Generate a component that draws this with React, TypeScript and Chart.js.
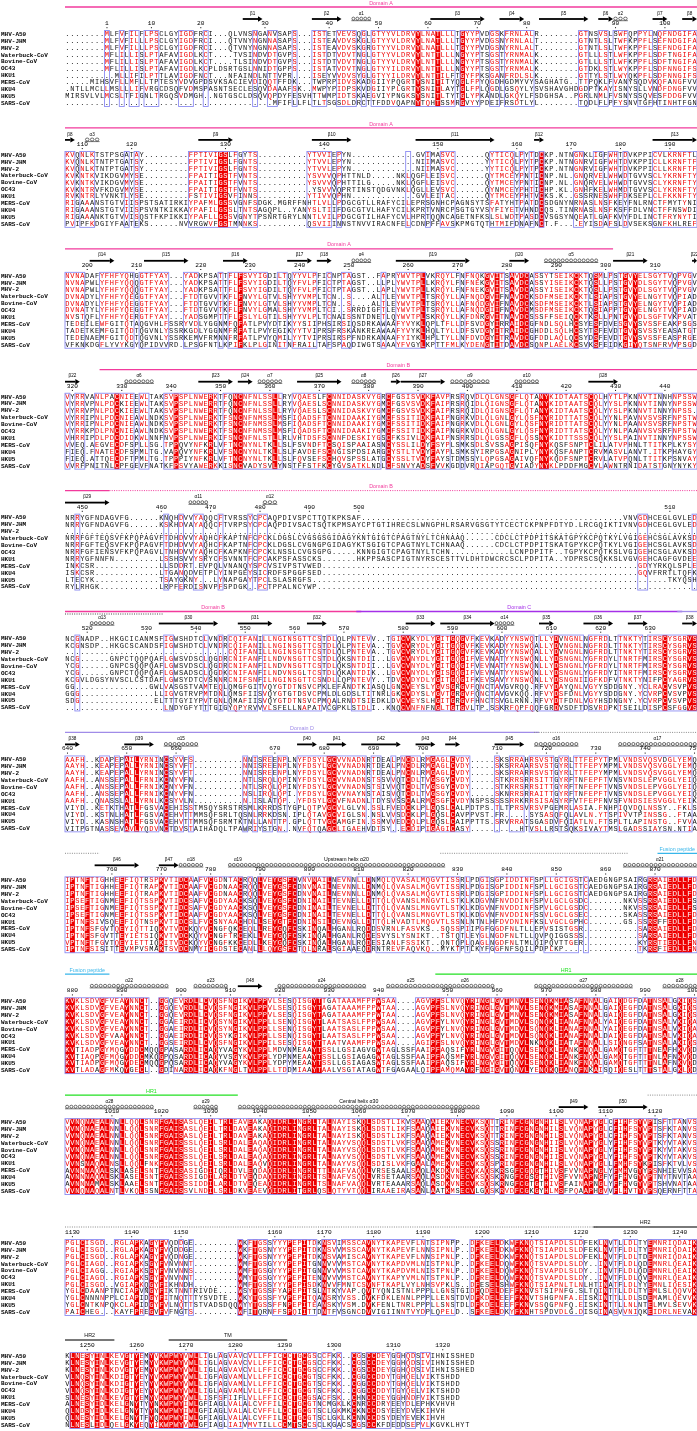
import React, { useEffect, useRef } from "react";
import { Chart, registerables } from "chart.js";

Chart.register(...registerables);

const g = (n: number) => ".".repeat(n);

// ---------------- DATA ----------------
const names = ["MHV-A59", "MHV-JHM", "MHV-2", "Waterbuck-CoV", "Bovine-CoV", "OC43", "HKU1", "MERS-CoV", "HKU4", "HKU5", "SARS-CoV"];

// first MHV-A59 residue number of every block (numbering row)
const blockStartResidue = [1, 107, 196, 319, 447, 516, 640, 751, 879, 1001, 1129, 1246];

const seqBlock1 = [
  g(8) + "MLFVFILFLPSCLGYIGDFRCI...QLVNSNGANVSAPS...ISTETVEVSQGLGTYYVLDRVYLNATLLLTGYYPVDGSKFRNLALR" + g(8) + "GTNSVSLSWFQPPYLNQFNDGIFA",
  g(8) + "MLFVFILLLPSCLGYIGDFRCI...QTVNYNGNNASAPS...ISTEAVDVSKGLGTYYVLDRVYLNATLLLTGYYPVDGSNYRNLALT" + g(8) + "GTNTLSLTWFKPPFLSEFNDGIFA",
  g(8) + "MLFVFILLLPSCLGYIGDFRCI...QTVNYNGNNASAPS...ISTEAVDVSKGRGTYYVLDRVYLNATLLLTGYYPVDGSNYRNLALT" + g(8) + "GTNTLSLTWFKPPFLSEFNDGIFA",
  g(8) + "MFLILLISLPTAFAVIGDLKCT....TVSINDVDTGVPS...ISTDTVDVTNGLGTYYVLDRVYLNTTLLLNGYYPTSGSTYRNMALK" + g(8) + "GTLLLSTLWFKPPFLSDFTNGIFA",
  g(8) + "MFLILLISLPTAFAVIGDLKCT....TLSINDVDTGVPS...ISTDTVDVTNGLGTYYVLDRVYLNTTLLLNGYYPTSGSTYRNMALK" + g(8) + "GTLLLSTLWFKPPFLSDFTNGIFA",
  g(8) + "MFLILLISLPTAFAVIGDLKCPLDSRTGSLNNIDTGPPS...ISTATVDVTNGLGTYYILDRVYLNTTLLLNGYYPTSGSTYRNMALK" + g(8) + "GTDKLSTLWYKPPFLSDFNNGIFS",
  g(10) + "MLLIFILPTTLAVIGDFNCT...NFAINDLNTTVPR....ISEYVVDVSYGLGTYYILDRVYLNTTILFTGYFPKSGANFRDLSLK" + g(8) + "GTTYLSTLWYQKPFLSDFNNGIFS",
  g(5) + "MIHSVFLLMFLLTPTESYVDVGPDSVKSACIEVDIQQTFFDK...TWPRPIDVSKADGIIYPQGRTYSNITITYQGLFPYQGDHGDMYVYSAGHATG..TTPQKLFVANYSQDVKQFANGFVV",
  ".NTLLMCLLMSLLLIFVRGCDSQFVDMSPASNTSECLESQVDAAAFSK..MWPYPIDPSKVDGIIYPLGRTYSNITLAYTGLFPLQGDLGSQYLYSVSHAVGHDGDPTKAYISNYSLLVNDFDNGFVV",
  "MIRSVLVLMCSLTFIGNLTRGQSVDMGH..NGTGSCLDSQVQPDYFESVHTTWMPIDTSKAEGVIYPNGKSYSNITLTYTGLYPKANDLGKQYLFSDGHSA..PGRLNMLFVSNYSSQVESFDDGFVV",
  g(42) + "MFIFLLFLTLTSGSDLDRCTTFDDVQAPNYTQHTSSMRGVYYPDEIFRSDTLYL" + g(8) + "TQDLFLPFYSNVTGFHTINHTFGN",
];

const seqBlock2 = [
  "KVQNLKTSTPSGATAY" + g(9) + "FPTIVIGSLFGYTS" + g(10) + "YTVVIEPYN" + g(13) + "GVIMASVC" + g(6) + "QYTICQLPYTDCKP.NTNGNKLIGFWHTDVKPPICVLKRNFTL",
  "KVQNLKTNTPTGATSY" + g(9) + "FPTIVIGSLFGNTS" + g(10) + "YTVVLEPYN" + g(13) + "NIIMASVC" + g(6) + "YYTICQLPYTPCKP.NTNGNRVIGFWHTDVKPPICLLKRNFTF",
  "KVQNLKTNTPTGATSY" + g(9) + "FPTIVIGSLFGNTS" + g(10) + "YTVVLEPYN" + g(13) + "NIIMASVC" + g(6) + "YYTICQLPYTPCKP.NTNGNRVIGFWHTDVKPPICLLKRNFTF",
  "KVKNTKVIKDGVMYSE" + g(9) + "FPAITIGSTFVNTS" + g(10) + "YSVVVQPHTTNLD" + g(5) + "NKLQGFLEISVC" + g(6) + "QYTMCEYPNTICNP.NL.GNQRVELWHWDTGVVSCLYKRNFTY",
  "KVKNTKVIKDGVMYSE" + g(9) + "FPAITIGSTFVNTS" + g(10) + "YSVVVQPHTTILG" + g(5) + "NKLQGFLEISVC" + g(6) + "QYTMCEYPNTICNP.NL.GNQRVELWHWDTGVVSCLYKRNFTY",
  "KVKNTRVFKDGVMYSE" + g(9) + "FPAITIGSTFVNTS" + g(11) + "YSVVVQPRTINSTQDGVNKLQGLLEVSVC" + g(6) + "QYNMCEYPHTICHP.KL.GNHFKELWHMDTGVVSCLYKRNFTY",
  "RVKNTRLYVNKTLYSE" + g(9) + "FSTIVIGSVFINNS" + g(10) + "YTIVVQPHN" + g(13) + "GVLEITAC" + g(6) + "QYTMCEYPHTVCKS.K..GSSRNESWHFDKSEPLCLFKKNFTY",
  "RIGAAANSTGTVIISPSTSATIRKIYPAFMLGSSVGNFSDGK.MGRFFNHTLVLLPDGCGTLLRAFYCILEPRSGNHCPAGNSYTSFATYHTPATDCSDGNYNRNASLNSFKEYFNLRNCTFMYTYNI",
  "RIGAAANSTGTVIISPSVNTKIKKAYPAFILGSSLTNTSAGQPL..YANYSLTIIFDGCGTVLHAFYCILKPRTVNRCPSGTGYVSYFIYETVHNDCQS.TINRNASLNSFKSFFDLVNCTFFNSWDI",
  "RIGAAANKTGTVVISQSTFKPIKKIYPAFLLGSSVGNYTPSNRTGRYLNNTLVILPDGCGTILHAFYCVLHPRTQQNCAGETNFKSLSLWDTPASDCVSGSYNQEATLGAFKVYFDLINCTFRYNYTI",
  "PVIPFKDGIYFAATEKS" + g(6) + "NVVRGWVFGSTMNNKS" + g(10) + "QSVIIINNSTNVVIRACNFELCDNPFFAVSKPMGTQTHTMIFDNAFNCT.F....EYISDAFSLDVSEKSGNFKHLREF",
];

const seqBlock3 = [
  "NVNADAFYFHFYQHGGTFYAY...YADKPSATTFLFSVYIGDILTQYYVLPFICNPTAGST..FAPRYWVTPLVKRQYLFNFNQKGVITSAVDCASSYTSEIKCKTQSMLPSTGVYELSGYTVQPVGV",
  "NVNAPWLYFHFYQQQGTFYAY...YADKPSATTFLFSVYIGDILTQYFVLPFICTPTAGST..LLPLYWVTPLLKRQYLFNFNEKGVITSAVDCASSYISEIKCKTQSLLPSTGVYDLSGYTVQPVGV",
  "NVNAPWLYFHFYQQQGTFYAY...YADKPSATTFLFSVYIGDILTQYFVLPFICTPTAGST..LAPLYWVTPLLKRQYLFNFNEKGVITSAVDCASSYISEIKCKTQSLLPSTGVYDLSGYTVQPVGV",
  "DVNADYLYFHFYQEGGTFYAY...FTDTGVVTKFLFNVYLGTVLSHYYVMPLTCN..S....ALTLEYWVTPLTSRQYLLAFNQDGVIFNAVDCKSDFMSEIKCKTLSIAPSTGVYELNGYTVQPIAD",
  "DVNADYLYFHFYQEGGTFYAY...FTDTGVVTKFLFNVYLGTVLSHYYVMPLTCN..S....ALTLEYWVTPLTSRQYLLAFNQDGVIFNAVDCKSDFMSEIKCKTLSIAPSTGVYELNGYTVQPIAD",
  "DVNATYLYFHFYQEGGTFYAY...FTDTGVVTKFLFNVYLGMALSHYYVMPLTCI..SRRDIGFTLEYWVTPLTSRQYLLAFNQDGIIFNAVDCMSDFMSEIKCKTQSIAPPTGVYELNGYTVQPIAD",
  "NVSTQFLYFHFYQERGTFYAY...YADSGMPTTFLFSLYLGTILSHYYVLPLTCNAISSNTDNETLQYWVTPLSKRQYLLKFDNRGVITNAVDCSSSFFSEIQCKTKSLLPNTGVYDLSGFTVKPVAT",
  "TEDEILEWFGITQTAQGVHLFSSRYVDLYGGNMFQFATLPVYDTIKYYSIIPHSIRSIQSDRKAWAAFYVYKLQPLTFLLDFSVDGYIRRAIDCGFNDLSQLHCSYESFDVESGVYSVSSFEAKPSGS",
  "TADETKEMFGITQDTQGVNLYSSRKGDLYGGNMFRFATLPVYEGIKYYTVIPRSFRSKANKREAWAAFYVYKLHQLTYLLDFSVDGYITRAIDCGHDDLSQLHCSYTSFEVDTGVYSVSSYEASATGT",
  "TEDENAEMFGITQDTQGVNLYSSRKEMVFRMNNFRFATLPVYQMILYYTVIPRSIRSPFNDRKANAAFYIYKLHPLTYLLNFDVDGYITRAVDCGFDDLAQLQCSYDSFEVDTGVYSVSSFEASPRGE",
  "VFKNKDGFLYVYKGYQPIDVVRD.LPSGFNTLKPIFKLPLGINITNFRAILTAFSPAQDIWGTSAAAYFVGYLKPTTFMLKYDENGTITDAVDCSQNPLAELKCSVKSFEIDKGIYQTSNFRVVPSGD",
];

const seqBlock4 = [
  "VYRRVANLPACNIEEWLTAKSVPSPLNWERKTFQNCNFNLSSLLRYVQAESLFCNNIDASKVYGRCFGSISVDKFAVPRSRQVDLQLGNSGFLQTANYKIDTAATSCQLHYTLPKNNVTINNHNPSSW",
  "VYRRVPNLPDCKIEEWLTAKSVPSPLNWERRTFQNCNFNLSSLLRYVQAESLSCNNIDASKVYGMCFGSVSVDKFAIPRSRQIDLQIGNSGFLQTANYKIDTAATSCQLYYSLPKNNVTINNYNPSSW",
  "VYRRVPNLPDCKIEEWLTAKSVPSPLNWERRTFQNCNFNLSSLLRYVQAESLSCNNIDASKVYGMCFGSVSVDKFAIPRSRQIDLQIGNSGFLQTANYKIDTAATSCQLYYSLPKNNVTINNYNPSS.",
  "VYRRIPNLPDCNIEAWLNDKSVPSPLNWERKTFSNCNFNMSSLMSFIQADSFTCNNIDAAKIYGMCFSSITIDKFAIPNGRKVDLQLGNLGYLQSFNYRIDTTATSCQLYYNLPAVNVSVSRFNPSTW",
  "VYRRIPNLPDCNIEAWLNDKSVPSPLNWERKTFSNCNFNMSSLMSFIQADSFTCNNIDAAKIYGMCFSSITIDKFAIPNGRKVDLQLGNLGYLQSFNYRIDTTATSCQLYYNLPAANVSVSRFNPSTW",
  "VYRRKPDLPNCNIEAWLNDKSVPSPLNWERKTFSNCNFNMSSLMSFIQADSFTCNNIDAAKIYGMCFSSITIDKFAIPNGRKVDLQLGNLGYLQSFNYRIDTTATSCQLYYNLPAANVSVSRFNPSTW",
  "VHRRIPDLPDCDIDKWLNNFNVPSPLNWERKIFSNCNFNLSTLLRLVHTDSFSCNNFDESKIYGSCFKSIVLDKFAIPNSRRSDLQLGSSGFLQSSNYKIDTTSSSCQLYYSLPAINVTINNYNPSSW",
  "VVEQ.AEGVECDFSPLLSG.TPPQVYNFKRLVFTNCNYNLTKLLSLFSVNDFTCSQISPAAIASNCYSSLILDYFSYPLSMKSDLSVSSAGPISQFNYKQSFSNPTCLILATVPHNLTTITKPLKYSY",
  "FIEQ.FNATECDFSPMLTG.VAPQVYNFKRLVFSNCNYNLTKLLSLFAVDEFSCNGISPDSIARGCYSTLTVDYFAYPLSMKSYIRPGSAGNIPLYNYKQSFANPTCRVMASVLANVT.ITKPHAYGY",
  "FIEQ.ATTQECDFTPMLTG.TPPPIYNFKRLVFTNCNYNLTKLLSLFQVSEFSCHQVSPSSLATGCYSSLTVDYFAYSTDMSSYLQPGSAGAIVQFNYKQDFSNPTCRVLATVPQNLTTITKPSNVAY",
  "VVRFPNITNLCPFGEVFNATKFPSVYAWERKKISNCVADYSVLYNSTFFSTFKCYGVSATKLNDLCFSNVYADSFVVKGDDVRQIAPGQTGVIADYNYKLPDDFMGCVLAWNTRNIDATSTGNYNYKY",
];

const seqBlock5 = [
  "NRRYGFNDAGVFG" + g(6) + "KNQHDVVYAQQCFTVRSSYCPCAQPDIVSPCTTQTKPKSAF" + g(53) + "VNVGDHCEGLGVLED",
  "NRRYGFNDAGVFG" + g(6) + "KSKHDVAYAQQCFTVRPSYCPCAQPDIVSACTSQTKPMSAYCPTGTIHRECSLWNGPHLRSARVGSGTYTCECTCKPNPFDTYD.LRCGQIKTIVNVGDHCEGLGVLED",
  g(128),
  "NRRFGFTEQSVFKPQPAGVFTDHDVVYAQHCFKAPTNFCPCKLDGSLCVGSGSGIDAGYKNTGIGTCPAGTNYLTCHNAAQ" + g(6) + "CDCLCTPDPITSKATGPYKCPQTKYLVGIGEHCSGLAVKSD",
  "NRRFGFTEQSVFKPQPAGVFTDHDVVYAQHCFKAPTNFCPCKLDGSLCVGNGPGIDAGYKTSGIGTCPAGTNYLTCHNAAQ" + g(6) + "CDCLCTPDPITSKATGPYKCPQTKYLVGIGEHCSGLAVKSD",
  "NRRFGFIENSVFKPQPAGVLTNHDVVYAQHCFKAPKNFCPCKLNSSLCVGSGPG" + g(5) + "KNNGIGTCPAGTNYLTCHN" + g(12) + "LCNPDPITF..TGPYKCPQTKSLVGIGEHCSGLAVKSD",
  "NRRYGFNNFN" + g(9) + "LSSHSVVYSRYCFSVNNTFCPCAKPSFASSCKS" + g(7) + "HKPPSASCPIGTNYRSCESTTVLDHTDWCRCSCLPDPITA..YDPRSCSQKKSLVGVGEHCAGFGVDEE",
  "INKCSR" + g(13) + "LLSDDRT.EVPQLVNANQYSPCVSIVPSTVWED" + g(64) + "GDYYRKQLSPLE",
  "ISKCSR" + g(13) + "LTGANQDVETPLYINPGEYSICRDFSPGGFSED" + g(64) + "GQVFRRTLTQFK",
  "LTECYK" + g(13) + "TSAYGKNY...LYNAPGAYTPCLSLASRGFS" + g(72) + "TKYQSH",
  "RYLRHGK" + g(12) + "LRPFERDISNVPFSPDGK..PCTPPALNCYWP" + g(77),
];

const seqBlock6 = [
  "NCGNADP..HKGCICANMSFIGWSHDTCLVNDRCQIFANILLNGINSGTTCSTDLQLPNTEVV..TGICVKYDLYGITGQGVFKEVKADYYNSWQTLLYDVNGNLNGFRDLTTNKTYTIRSCYSGRVS",
  "KCGNSDP..HKGCSCANDSFIGWSHDTCLVNDRCQIFANILLNGINSGTTCSTDLQLPNTEVA..TGVCVRYDLYGITGQGVFKEVKADYYNSWQALLYDVNGNLNGFRDLTTNKTYTIRSCYSGRVS",
  g(33) + "CQIFANILLNGINSGTTCSTDLQLPNTEVA..TGVCVRYDLYGITGQGVFKEVKADYYNSWQALLYDVNGNLNGFRDLTTNKTYTIRSCYSGRVS",
  "NCG" + g(6) + "GNPCTQQPQAFLGWSVDSCLQGDRCNIFANFILNDVNSGTTCSTDLQKSNTDII..LGVCVNYDLYGITGQGIFVEVNATYYNSWQNLLYDSNGNLYGFRDYLTNRTFMIRSCYSGRVS",
  "YCG" + g(6) + "GNPCSQQPQAFLGWSVDSCLQGDRCNIFANFILNDVNSGTTCSTDLQKSNTDII..LGVCVNYDLYGITGQGIFVEVNATYYNSWQNLLYDSNGNLYGFRDYLTNRTFMIRSCYSGRVS",
  "YCG" + g(6) + "GNPCTQQPQAFLGWSADSCLQGDKCNIFANFILNDVNSGLTCSTDLQKANTDIK..LGVCVNYDLYGISGQGIFVEVNATYYNSWQNLLYDSNGNLYGFRDYITNRTFMIRSCYSGRVS",
  "KCGVLDGSYNVSCLCSTDAFLGWSYDTCVSNNRCNIFSNFILNGINSGTTCSNDLLQPNTEVY..TDVCVDYDLYGITGQGIFKEVSAVYYNSWQNLLYDSNGNIIGFKDFVTNKTYNIFPCYAGRVS",
  "GG" + g(15) + "GWLVASGSTVAMTEQLQMGFGITVQYGTDTNSVCPKLEFANDTKIASQLGNCVEYSLYGVSGRGVFQNCTAVGVRQQ.RFVYDAYQNLVGYYSDDGNY.YCLRACVSVPVS",
  "GGG" + g(15) + "LLIGVGTRVPMTDNLQMSFIISVQYGTGTDSVCPMLDLGDSLTITNRLGKCVDYSLYGVTGRGVFQNCTAVGVKQQ.RFVYDSFDNLVGYYSDDGNY.YCVRPCVSVPVS",
  "SDG" + g(15) + "ELTTTGYIYPVTGNLQMAFIISVQYGTDTNSVCPMQALRNDTSIEDKLDVCVEYSLHGITGRGVFHNCTSVGLRNN.RFVYDTFDNLVGYHSDNGNY.YCVRPCVSVPVS",
  g(20) + "LNDYGFYTTTGIGYQPYRVVVLSFELLNAPATVCGPKLSTDLI..KNQCVNFNFNGLTGTGVLTP.SSKRFQPFQQFGRDVSDFTDSVRDPKTSEILDISPCSFGGVS",
];

const seqBlock7 = [
  "AAFH..KDAPEPAILYRNINCSYVFS" + g(10) + "NNISREENPLNYFDSYLGCVVNADNRTDEALPNCDLRMGAGLCVDY.....SKSRRAHRSVSTGYRLTTFEPYTPMLVNDSVQSVDGLYEMQ",
  "AAYH..KEAPEPALLYRNINCSYVFT" + g(10) + "NNISREENPLNYFDSYLGCVVNADNRTDEALPNCDLRMGAGLCVDY.....SKSRRAARSVSTGYRLTTFEPYMPMLVNDSVQSVGGLYEMQ",
  "AAYH..KEAPEPALLYRNINCSYVFT" + g(10) + "NNISREENPLNYFDSYLGCVVNADNRTDEALPNCNLRMGAGLCVDY.....SKSRRARRSVSTGYRLTTFEPYMPMLVNDSVQSVGGLYEMQ",
  "AAFH..ANSSEPALLFRNIKCNYVFN" + g(10) + "NTLSRQLQPINYFDSYLGCVVNADNSTSSVVQTCDLTVGSGYCVDY.....STKRRSRRSITTGYRFTNFEPFTVNSVNDSLEPVGGLYEIQ",
  "AAFH..ANSSEPALLFRNIKCNYVFN" + g(10) + "NTLSRQLQPINYFDSYLGCVVNADNSTSIVVQTCDLTVGSGYCVDY.....STKRRSRRSITTGYRFTNFEPFTVNSVNDSLEPVGGLYEIQ",
  "AAFH..ANSSEPALLFRNIKCNYVFN" + g(10) + "NSLIRQLQPI.YFDSYLGCVVNAYNSTAISVQTCDLTVGSGYCVDY.....SKNRRSRRAITTGYRFTNFEPFTVNSVNDSLEPVGGLYEIQ",
  "AAFH..QNASSLALLYRNLKCSYVLN" + g(10) + "N.ISLATQP..YFDSYLGCVFNADNLTDYSVSSCALRMGSGFCVDYNSPSSSSSRRKRRSISASYRFVTFEPFNVSFVNDSIESVGGLYEIK",
  "VIYD..KETKTHATLFGSVACEHISSTMSQYSRSTRSMLKRRDSTYGPLQTPVGCVLGLVN.SSLFVEDCKLPLGQSLCALPDTPS.TLTPRSVRSVPGEMRLASIA.FNHPIQVDQLNSSY..FKLS",
  "VIYD..KSTNLHATLFGSVACEHVTTMMSQFSRLTQSNLRRKDSN.IPLQTAVGCVIGLSN.NSLVVSDCKLPLGQSLCAVPPVST.FR.....SYSASQFQLAVLN.YTSPIVVTPINSSG..FTAA",
  "VIYD..KASNSHATLFGSVACEHVTTMMSQFSRMTKTNLLANTTP.GPLQTTVGCAMGFIN.SSMVVEDCQLPLGQSLCAIPPTTS.SRVRRATSGASDVFQIATLN.FTSPLTLAPINSTG..FVVA",
  "VITPGTNASSEVAVLYQDVNCTDVSTAIHADQLTPAWRIYSTGN..NVFQTQAGCLIGAEHVDTSY..ECDIPIGAGICASY" + g(10) + "HTVSLLRSTSQKSIVAYTMSLGADSSIAYSN.NTIA",
];

const seqBlock8 = [
  "IPTNFTIGHHEEFIQTRSPKVTIDCAAFVCGDNTACRQQLVEYGSFCVNVNAILNEVNNLLDNMQLQVASALMQGVTISSRLPDGISGPIDDINFSPLLGCIGSTCAEDGNGPSAIRGRSAIEDLLFD",
  "IPTNFTIGHHEEFIQTRAPKVTIDCAAFVCGDNAACRQQLVEYGSFCDNVNAILNEVNNLLDNMQLQVASALMQGVTISSRLPDGISGPIDDINFSPLLGCIGSTCAEDGNGPSAIRGRSAIEDLLFD",
  "IPTNFTIGHHEEFIQTRAPKVTIDCAAFVCGDNAACRQQLVEYGSFCDNVNAILNEVNNLLDNMQLQVASALMQGVTISSRLPDGISGPIDDINFSPLLGCIGSTCAEDGNGPSAIRGRSAIEDLLFD",
  "IPSEFTIGNMEEFIQTSSPKVTIDCSAFVCGDYAACKSQLVEYGSFCDNINAILTEVNELLDTTQLQVANSLMNGVTLSTKLKDGVNFNVDDINFSPVLGCLGSDC" + g(7) + "NKVSSRSAIEDLLFS",
  "IPSEFTIGNMEEFIQTSSPKVTIDCSAFVCGDYAACKSQLVEYGSFCDNINAILTEVNELLDTTQLQVANSLMNGVTLSTKLKDGVNFNVDDINFSPVLGCLGSDC" + g(7) + "NKVSSRSAIEDLLFS",
  "IPSEFTIGNMEEFIQTSSPKVTIDCAAFVCGDYAACKSQLVEYGSFCDNINAILTEVNELLDTTQLQVANSLMNGVTLSTKLKDGVNFNVDDINFSSVLGCLGSEC" + g(7) + "SKASSRSAIEDLLFD",
  "IPTNFSIVSQEEFIQTNSPKVTIDCSLFVCSNYAACHDLLSEYGTFCDNINSILDEVNGLLDTTQLHVADTLMQGVTLSSNLNTNLHFDVDNINFKSLVGCLGPHC" + g(7) + "GS.SSRSFFEDLLFD",
  "IPTNFSFGVTQEYIQTTIQKVTVDCKQYVCNGFQKCEQLLREYGQFCSKINQALHGANLRQDDSVRNLFASVKS..SQSSPIIPGFGGDFNLTLLEPVSISTGSR" + g(11) + "SARSAIEDLLFD",
  "IPTNFSFGVTTEYIETSIQKVTVDCKQYVCNGFTRCEKLLVEYGQFCSKINQALHGANLRQDESVYSLYSNIKT..TSTQTLEYGLNGDFNLTLLQVPQIGGSSS" + g(11) + "SARSAIEDLLFD",
  "VPTNFTFGVTQEYIETTIQKITVDCKQYVCNGFKKCEDLLKEYGQFCSKINQALHGANLRQDESIANLFSSIKT..QNTQPLQAGLNGDFNLTMLQIPQVTTGER" + g(11) + "KYRSTIEDLLFN",
  "IPTNFSISITTEVMPVSMAKTSVDCNMYICGDSTECANLLLQYGSFCTQLNRALSGIAAEQDRNTREVFAQVKQ..MYKTPTLKYFGGFNFSQILPDPLKP" + g(15) + "TKRSFIEDLLFN",
];

const seqBlock9 = [
  "KVKLSDVGFVEAYNNCT..GGQEVRDLLCVQSFNGIKVLPPVLSESQISGYTTGATAAAMFPPWSAA....AGVPFSLNVQYRINGLGVTMNVLSENQKMIASAFNNALGAIQDGFDATNSALGKIQS",
  "KVKLSDVGFVEAYNNCT..GGQEVRDLLCVQSFNGIKVLPPVLSESQISGYTAGATAAAMFPPWTAA....AGVPFSLNVQYRINGLGVTMNVLSENQKMIASAFNNALGAIQEGFDATNSALGKIQS",
  "KVKLSDVGFVEAYNNCT..GGQEVRDLLCVQSFNGIKVLPPVLSESQISGYTAGATAAAMFPPWTAA....AGVPFSLNVQYRINGLGVTMNVLSENQKMIASAFNNALGAIQEGFDATNSALGKIQS",
  "KVKLSDVGFVEAYNNCT..GGAEIRDLICVQSYNGIKVLPPLLSENQISGYTLAATSASLFPPWSAA....AGVPFYLNVQYRINGLGVTMDVLSQNQKLIANAFNNALYAIQEGFDATNSALVKIQA",
  "KVKLSDVGFVEAYNNCT..GGAEIRDLICVQSYNGIKVLPPLLSENQISGYTLAATSASLFPPWSAA....AGVPFYLNVQYRINGLGVTMDVLSQNQKLIANAFNNALYAIQEGFDATNSALVKIQA",
  "KVKLSDVGFVAAYNNCT..GGAEIRDLICVQSYKGIKVLPPLLSENQISGYTLAATSASLFPPWSAA....AGVPFYLNVQYRINGLGVTMDVLSQNQKLIANAFNNALDAIQEGFDATNSALVKIQA",
  "KVKLSDVGFVEAYNNCT..GGSEIRDLLCVQSFNGIKVLPPILSESQISGYTTAATVAAMFPPWSAA....AGIPFSLNVQYRINGLGVTMDVLNKNQKLIATAFNNALLSIQNGFSATNSALAKIQS",
  "KVTIADPGYMQGYDDCMQQGPASARDLICAQYVAGYKVLPPLMDVNMEAAYTSSLLGSIAGVGWTAGLSSFAAIPFAQSIFYRLNGVGITQQVLSENQKLIANKFNQALGAMQTGFTTTNEAFHKVQD",
  "KVTIAQPGFMQGYDDCMKQGPQSARDLICAQYVSGYKVLPPLYDPNMEAAYTSSLLGSIAGAGWTAGLSSFAAIPFAQSMFYRLNGVGITQQVLSENQKLIANKFNQALGAMQTGFTTTNLAFNKVQD",
  "KVTIADPGFMQGYDECMQQGPQSARDLICAQYVAGYKVLPPLYDPYMEAAYTSSLLGSIAGASWTAGLSSFAAIPFAQSIFYRLNGVGITQQVLSENQKLIANKFNQALGAMQTGFTTTNLAFNKVQD",
  "KVTLADAGFMKQYGECL..GDINARDLICAQKFNGLTVLPPLLTDDMIAAYTAALVSGTATAGWTFGAGAALQIPFAMQMAYRFNGIGVTQNVLYENQKQIANQFNKAISQIQESLTTTSTALGKLQD",
];

const seqBlock10 = [
  "VVNQNAEALNNLLQQLSNRFGAISASLQEILTRLEAVEAKAQIDRLINGRLTALNAYISKQLSDSTLIKVSAAQAIEKVNECVKSQTTRINFCGNGNHILSLVQNAPYGLCFIHFSYVPISFTTANVS",
  "VVNQNAEALNNLLQQLSNRFGAISASLQEILTRLDAVEAKAQIDRLINGRLTALNAYISKQLSDSTLIKFSAAQAIEKVNECVKSQTTRINFCGNGNHILSLVQNAPYGLCFIHFSYVPTSFKTANVS",
  "VVNQNAEALNNLLQQLSNRFGAISASLQEILTRLDAVEAKAQIDRLINGRLTALNAYISKQLSDSTLIKFSAAQAIEKVNECVKSQTTRINFCGNGNHILSLVQNAPYGLCFIHFSYVPTSFKTANVS",
  "VVNQNAEALNNLLQQLSNRFGAISSSLQEILSRLDALEAQAQIDRLINGRLTALNAYVSQQLSDSTLVKFSAAQAMEKVNECVKSQSSRINFCGNGNHIISLVQNAPYGLYFIHFSYVPTKYVTAKVS",
  "VVNQNAEALNNLLQQLSNRFGAISSSLQEILSRLDALEAQAQIDRLINGRLTALNAYVSQQLSDSTLVKFSAAQAMEKVNECVKSQSSRINFCGNGNHIISLVQNAPYGLYFIHFSYVPTKYVTAKVS",
  "VVNQNAEALNNLLQQLSNRFGAISSSLQEILSRLDALEAQAQIDRLINGRLTALNAYVSQQLSDSTLVKFSAAQAMEKVNECVKSQSSRINFCGNGNHIISLVQNAPYGLYFIHFSYVPTKYVTAKVS",
  "VVNSNAQALNSLLQQLFNKFGAISSSLQEILSRLDALEAQVQIDRLINGRLTALNAYVSQQLSDISLVKFGAALAMEKVNECVKSQSPRINFCGNGNHILSLVQNAPYGLLFMHFSYKPISFKTVLVS",
  "AVNNNAQALSKLASELSNTFGAISASIGDIIQRLDVLEQDAQIDRLINGRLTTLNAFVAQQLVRSESAALSAQLAKDKVNECVKAQSKRSGFCGQGTHIVSFVVNAPNGLYFMHVGYYPSNHIEVVSA",
  "AVNNNAQALSKLASELSNTFGAISSSIGDILARLDTVEQDAQIDRLINGRLTSLNAFVSQQLVRSETAARSAQLASDKVNECVKSQSKRNGFCGSGTHIVSFVVNAPNGFYFFHVGYVPTNYTNVTAA",
  "AVNNNAMALSKLAAELSNTFGAISSSIDDILARLDTVEQEAQIDRLINGRLTSLNAFVAQQLVRTEAAARSAQLASDKVNECVKSQSKRNGFCGTGTHIVSFAINAPNGLYFFHVGYVPTSHVNATAA",
  "VVNQNAQALNTLVKQLSSNFGAISSVLNDILSRLDKVEAEVQIDRLITGRLQSLQTYVTQQLIRAAEIRASANLAATKMSECVLGQSKRVDFCGKGYHLMSFPQAAPHGVVFLHVTYVPSQERNFTTA",
];

const seqBlock11 = [
  "PGLCISGD..RGLAPKAGYFVQDDGE" + g(9) + "WKFTGSSYYYPEPITDKNSVIMSSCAVNYTKAPEVFLNTSIPNPP..DFKEELDKWFKNQTSIAPDLSLDFEKLNVTLLDLTYEMNRIQDAIK",
  "PGLCISGD..RGLAPKAGYFVQDDGE" + g(9) + "WKFTGSNYYYPEPITDKNSVVMSSCAVNYTKAPEVFLNNSIPNLP..DFKEELDKWFKNQTSIAPDLSLDFEKLNVTFLDLTYEMNRIQDAIK",
  "PGLCISGD..RGLAPKAGYFVQDNGE" + g(9) + "WKFTGSNYYYPEPITDKNSVAMISCAVNYTKAPEVFLNNSIPNLP..DFKEELDKWFKNQTSIAPDLSLDFEKLNVTFLDLTDEMNRIQDAIK",
  "PGLCIAGD..RGIAPKSGYFVNVNNT" + g(9) + "WMFTGSGYYYPEPITGNNVVVMSTCAVNYTKAPDVMLNISTPNLP..DFKEELDQWFKNQTSVAPDLSLDY..INVTFLDLQDEMNRLQEAIK",
  "PGLCIAGG..RGIAPKSGYFVNVNNS" + g(9) + "WMFTGSGYYYPEPITGNNVVVMSTCAVNYTKAPDVMLNISTPNLP..DFKEELDQWFKNQTSVAPDLSLDY..INVTFLDLQDEMNRLQEAIK",
  "PGLCIAGD..RGIAPKSGYFVNVNNT" + g(9) + "WMYTGSGYYYPEPITENNVVVMSTCAVNYTKAPYVMLNTSTPNLP..DFREELDQWFKNQTSVAPDLSLDY..INVTFLDLQVEMNRLQEAIK",
  "PGLCISGD..VGIAPKQGYFIKHNDH" + g(9) + "WMFTGSSYYYPEPISDKNVVFMNTCSVNFTKAPLVYLNHSVPKLS..DFESELSHWFKNQTSIAPNLTLNLHTINATFLDLYYEMNLIQESIK",
  "YGLCDAANPTNCIAPVNGYFIKTNNTRIVDE....WSYTGSSFYAPEPITSLNTKYVAP.QVTYQNISTNLPPPLLGNSTGIDFQDELDEFFKNVSTSIPNFG.SLTQINTTLLDLTYEMLSLQQVVK",
  "YGLCNNNNPPLCIAPIDGYFITNQTTTYSVDTE..WKYTGSSFYVPEPITQANSRYVSS.DVKFDKLENNLPPPLLENSTDVDFKDELEEFFKNVTSHGPNFA.EISKINTTLLDLSDEMAMLQEVVK",
  "YGLCNTKNPQKCLAPIDGYFVLNQTTSTVADSDQQWYYTGSSFFNPEPITEANSKYVSM.DVKFENLTNRLPPPLLSNSTDLDFKDELEEFFKNVSSQGPNFQ.EISKINTTLLNLNTELMVLSEVVK",
  "PAICHEG...KAYFPREGVFVFNGTS" + g(9) + "WFITQRNFFSPQIITTDNTFVSGNCDVVIGIINNTVYDPLQPELD..SFKEELDKYFKNHTSPDVDLG.DISGINASVVNIQKEIDRLNEVAK",
];

const seqBlock12 = [
  "KLNESYINLKEVGTYEMYVKWPWYVWLLIGLAGVAVCVLLFFICCCTGCGSCCFKK..CGSCCDEYGGHQDSIVIHNISSHED",
  "KLNESYINLKEVGTYEMYVKWPWYVWLLIGLAGVAVCVLLFFICCCTGCGSCCFKK..CGSCCDEYGGHQDSIVIHNISSHED",
  "KLNESYINLKDVGTYEMYVKWPWYVWLLIGLAGVAVCVLLFFICCCTGCGSCCFKK..CGSCCDEYGGHQDSIVIHNISSHED",
  "VLNQSYINLKDIGTYEYYVKWPWYVWLLIGFAGVAMLVLLFFICCCTGCGTSCFKK..CGGCCDDYTGHQELVIKTSHDD",
  "VLNQSYINLKDIGTYEYYVKWPWYVWLLIGFAGVAMLVLLFFICCCTGCGTSCFKK..CGGCCDDYTGHQELVIKTSHDD",
  "VLNQSYINLKDIGTYEYYVKWPWYVWLLIGLAGVAMLVLLFFICCCTGCGTSCFKK..CGGCCDDYTGYQELVIKTSHDD",
  "SLNESYINLKEVGTYEMYVKWPWYVWLLISFSFIIFLVLLFFICCCTGCGSACFSK..CHNCCDEYGGHNDFVIKTSHDD",
  "ALNESYIDLKELGNYTYYNKWPWYIWLGFIAGLVALALCVFFILCCTGCGTNCMGKLKCNRCCDRYEEYDLEPHKVHVH",
  "QLNDSYIDLKELGNYTYYNKWPWYIWLGFIAGLVALALCVFFLLCCTGCGTSCLGKMKCKNCCDSYEEYDVEKIHVH",
  "QLNESYIDLKELGNYTFYQKWPWYIWLGFIAGLVALALCVFFILCCTGCGTSCLGKLKCNNCCDSYDEYEVEKIHVH",
  "NLNESLIDLQELGKYEQYIKWPWYVWLGFIAGLIAIVMVTILLCCMTSCCSCLKGACSCGSCCKFDEDDSEPVLKGVKLHYT",
];

// secondary structure: [type E=strand H=helix, first column, last column, label]
const ssBlock1 = [["E", 37, 40, "β1"], ["E", 51, 56, "β2"], ["H", 59, 62, "α1"], ["E", 75, 85, "β3"], ["E", 89, 93, "β4"], ["E", 97, 106, "β5"], ["E", 109, 111, "β6"], ["H", 112, 114, "α2"], ["E", 120, 122, "β7"], ["E", 126, 128, "β8"]];
const ssBlock2 = [["E", 1, 2, "β8"], ["H", 5, 7, "α3"], ["E", 28, 34, "β9"], ["E", 51, 58, "β10"], ["E", 72, 87, "β11"], ["E", 96, 97, "β12"], ["E", 120, 128, "β13"]];
const ssBlock3 = [["E", 6, 10, "β14"], ["E", 17, 25, "β15"], ["E", 33, 37, "β16"], ["E", 46, 50, "β17"], ["E", 52, 54, "β18"], ["H", 59, 62, "α4"], ["E", 68, 82, "β19"], ["E", 91, 94, "β20"], ["H", 98, 108, "α5"], ["E", 112, 118, "β21"], ["E", 128, 128, "β22"]];
const ssBlock4 = [["E", 1, 3, "β22"], ["H", 13, 18, "α6"], ["E", 28, 34, "β23"], ["E", 36, 38, "β24"], ["H", 40, 44, "α7"], ["E", 48, 56, "β25"], ["H", 59, 63, "α8"], ["E", 67, 68, "β26"], ["E", 69, 77, "β27"], ["H", 79, 86, "α9"], ["H", 92, 96, "α10"], ["E", 107, 112, "β28"]];
const ssBlock5 = [["E", 1, 9, "β29"], ["H", 26, 29, "α11"], ["H", 41, 43, "α12"]];
const ssBlock6 = [["H", 6, 10, "α13"], ["E", 20, 31, "β30"], ["E", 36, 42, "β31"], ["E", 50, 53, "β32"], ["E", 70, 75, "β33"], ["E", 77, 87, "β34"], ["H", 88, 91, "α14"], ["E", 97, 99, "β35"], ["E", 106, 111, "β36"], ["E", 115, 118, "β37"], ["E", 126, 128, "β38"]];
const ssBlock7 = [["E", 1, 3, "β38"], ["E", 13, 18, "β39"], ["H", 21, 27, "α15"], ["E", 48, 51, "β40"], ["E", 54, 57, "β41"], ["E", 61, 68, "β42"], ["E", 72, 75, "β43"], ["E", 78, 80, "β44"], ["E", 88, 93, "β45"], ["H", 96, 104, "α16"], ["H", 113, 128, "α17"]];
const ssBlock8 = [["E", 7, 15, "β46"], ["E", 20, 23, "β47"], ["H", 24, 28, "α18"], ["H", 34, 37, "α19"], ["H", 38, 77, "Upstream helix α20"], ["H", 114, 128, "α21"]];
const ssBlock9 = [["H", 6, 21, "α22"], ["H", 27, 33, "α23"], ["E", 36, 40, "β48"], ["H", 44, 61, "α24"], ["H", 66, 75, "α25"], ["H", 76, 87, "α26"], ["H", 96, 115, "α27"], ["H", 122, 128, "α28"]];
const ssBlock10 = [["H", 1, 18, "α28"], ["H", 27, 31, "α29"], ["H", 36, 84, "Central helix α30"], ["E", 101, 106, "β49"], ["E", 109, 118, "β50"]];
const ssBlock11: any[] = [];
const ssBlock12: any[] = [];

// region annotations: [region, first column, last column, shown label]
const regionBlock1 = [["Domain A", 1, 128, "Domain A"]];
const regionBlock2 = [["Domain A", 1, 128, "Domain A"]];
const regionBlock3 = [["Domain A", 1, 111, "Domain A"]];
const regionBlock4 = [["Domain B", 8, 128, "Domain B"]];
const regionBlock5 = [["Domain B", 1, 9, ""], ["Domain B flexible", 10, 128, ""], ["Domain B label", 1, 128, "Domain B"]];
const regionBlock6 = [["Domain B", 1, 60, "Domain B"], ["Domain C", 60, 125, "Domain C"], ["Domain D", 125, 128, ""], ["Domain B tail", 1, 20, ""]];
const regionBlock7 = [["Domain D", 1, 96, "Domain D"], ["disordered", 96, 128, ""]];
const regionBlock8 = [["disordered", 1, 7, ""], ["disordered", 77, 114, ""], ["Fusion peptide", 121, 128, "Fusion peptide"]];
const regionBlock9 = [["Fusion peptide", 1, 9, "Fusion peptide"], ["HR1", 76, 128, "HR1"]];
const regionBlock10 = [["HR1", 1, 35, "HR1"], ["disordered", 119, 128, ""]];
const regionBlock11 = [["unmodelled", 1, 108, ""], ["HR2", 108, 128, "HR2"]];
const regionBlock12 = [["HR2", 1, 10, "HR2"], ["TM", 22, 45, "TM"]];

// ---------------- LAYOUT / STYLE ----------------
const W = 697;
const H = 1431;
const NCOL = 128;
const SEQ_LEFT = 65;
const LINE = 6.9;
const FIRST_ROW_Y = 34;
const BLOCK_PERIOD = 120.9;
const LAST_BLOCK_ROW_Y = 1356;
const SIM_MIN = 7;

const blocks = [seqBlock1, seqBlock2, seqBlock3, seqBlock4, seqBlock5, seqBlock6, seqBlock7, seqBlock8, seqBlock9, seqBlock10, seqBlock11, seqBlock12];
const ssAll = [ssBlock1, ssBlock2, ssBlock3, ssBlock4, ssBlock5, ssBlock6, ssBlock7, ssBlock8, ssBlock9, ssBlock10, ssBlock11, ssBlock12];
const regionAll = [regionBlock1, regionBlock2, regionBlock3, regionBlock4, regionBlock5, regionBlock6, regionBlock7, regionBlock8, regionBlock9, regionBlock10, regionBlock11, regionBlock12];

const PINK = "#f23a9c";
const PURPLE = "#a530e8";
const LAV = "#a08ce8";
const CYAN = "#38b6ea";
const GREEN = "#22e022";
const DGREY = "#4d4d4d";
const GREY = "#8a8a8a";
const RED = "#ee0000";
const BOX = "#8c8cf2";

const REGION_STYLE: Record<string, any> = {
  "Domain A": { color: PINK, level: "top" },
  "Domain B": { color: PINK, level: "top" },
  "Domain B flexible": { color: PINK, level: "top", dash: true },
  "Domain B label": { color: PINK, level: "top", textOnly: true },
  "Domain B tail": { color: "#444", level: "sub", dash: true },
  "Domain C": { color: PURPLE, level: "top" },
  "Domain D": { color: LAV, level: "top" },
  "Fusion peptide": { color: CYAN, level: "top" },
  "HR1": { color: GREEN, level: "top" },
  "HR2": { color: DGREY, level: "ss", textColor: "#111" },
  "TM": { color: DGREY, level: "ss", textColor: "#111" },
  "disordered": { color: GREY, level: "top", dash: true },
  "unmodelled": { color: GREY, level: "ss", dash: true },
};
const LEVEL_PX: Record<string, [number, number]> = { top: [-27, -30.8], ss: [-16, -20], sub: [-24.5, -28] };

const GROUPS = ["ILMV", "FYW", "KR", "DENQ", "STA", "G", "P", "C", "H"];
const groupOf = (ch: string) => {
  for (let i = 0; i < GROUPS.length; i++) if (GROUPS[i].indexOf(ch) >= 0) return i;
  return -1;
};

function analyse(rows: string[]) {
  const ident: boolean[] = [];
  const sim: boolean[] = [];
  const red: boolean[][] = rows.map(() => []);
  for (let c = 0; c < NCOL; c++) {
    const chars = rows.map((r) => r[c] || ".");
    const isRes = chars.map((ch) => ch >= "A" && ch <= "Z");
    const same = isRes.every(Boolean) && chars.every((ch) => ch === chars[0]);
    ident[c] = same;
    const counts = new Array(GROUPS.length).fill(0);
    chars.forEach((ch) => {
      const gi = groupOf(ch);
      if (gi >= 0) counts[gi]++;
    });
    let best = 0;
    for (let i = 1; i < counts.length; i++) if (counts[i] > counts[best]) best = i;
    const s = !same && counts[best] >= SIM_MIN;
    sim[c] = s;
    chars.forEach((ch, r) => {
      red[r][c] = s && groupOf(ch) === best;
    });
  }
  return { ident, sim, red };
}

const blockBase = (b: number) => (b < 11 ? BLOCK_PERIOD * b : LAST_BLOCK_ROW_Y - FIRST_ROW_Y) / LINE;

const alignmentPlugin = {
  id: "alignment",
  afterDraw(chart: any) {
    const ctx: CanvasRenderingContext2D = chart.ctx;
    const xs = chart.scales.x;
    const ys = chart.scales.y;
    const X = (c: number) => xs.getPixelForValue(c);
    const Y = (u: number) => ys.getPixelForValue(u);
    ctx.save();
    ctx.fillStyle = "#fff";
    ctx.fillRect(0, 0, W, H);

    blocks.forEach((rawRows, b) => {
      const rows = rawRows.map((r) => (r.length >= NCOL ? r.slice(0, NCOL) : r));
      const base = blockBase(b);
      const at = (px: number) => Y(base + px / LINE);
      const { ident, sim, red } = analyse(rows);
      const yTop = Y(base - 0.5);
      const yBot = Y(base + rows.length - 0.5);

      // identity columns (red boxes)
      ctx.fillStyle = RED;
      for (let c = 0; c < NCOL; c++) {
        if (!ident[c]) continue;
        const x0 = X(c + 0.5), x1 = X(c + 1.5);
        ctx.fillRect(x0, yTop, x1 - x0, yBot - yTop);
      }

      // residues
      ctx.font = '7px "Liberation Mono", "DejaVu Sans Mono", monospace';
      ctx.textAlign = "center";
      ctx.textBaseline = "middle";
      rows.forEach((row, r) => {
        const y = Y(base + r) + 0.3;
        for (let c = 0; c < row.length && c < NCOL; c++) {
          const ch = row[c];
          if (ident[c]) ctx.fillStyle = "#fff";
          else if (red[r][c]) ctx.fillStyle = RED;
          else ctx.fillStyle = "#111";
          ctx.fillText(ch, X(c + 1), y);
        }
      });

      // similarity frames
      ctx.strokeStyle = BOX;
      ctx.lineWidth = 0.9;
      let c = 0;
      while (c < NCOL) {
        if (ident[c] || sim[c]) {
          let e = c;
          while (e + 1 < NCOL && (ident[e + 1] || sim[e + 1])) e++;
          const x0 = X(c + 0.5), x1 = X(e + 1.5);
          ctx.strokeRect(x0, yTop, x1 - x0, yBot - yTop);
          c = e + 1;
        } else c++;
      }

      // sequence names
      ctx.font = 'bold 6px "Liberation Mono", "DejaVu Sans Mono", monospace';
      ctx.textAlign = "left";
      ctx.fillStyle = "#000";
      names.forEach((n, r) => ctx.fillText(n, 1, Y(base + r) + 0.3));

      // numbering
      ctx.font = '6.2px "Liberation Mono", "DejaVu Sans Mono", monospace';
      ctx.textAlign = "center";
      let res = blockStartResidue[b] - 1;
      const ref = rows[0];
      for (let k = 0; k < ref.length && k < NCOL; k++) {
        const ch = ref[k];
        if (!(ch >= "A" && ch <= "Z")) continue;
        res++;
        if (res % 10 === 0 || res === 1) {
          const x = X(k + 1);
          ctx.fillText(String(res), x, at(-10.6));
          ctx.fillRect(x - 0.5, at(-6.8), 1, 1);
        }
      }

      // secondary structure
      ssAll[b].forEach((s: any) => {
        const [type, from, to, label] = s;
        const x0 = X(from - 0.5), x1 = X(to + 0.5);
        const y = at(-15);
        ctx.fillStyle = "#000";
        ctx.strokeStyle = "#000";
        if (type === "E") {
          const head = Math.min(4.5, (x1 - x0) * 0.6);
          ctx.fillRect(x0, y - 0.9, x1 - x0 - head, 1.8);
          ctx.beginPath();
          ctx.moveTo(x1, y);
          ctx.lineTo(x1 - head, y - 2.7);
          ctx.lineTo(x1 - head, y + 2.7);
          ctx.closePath();
          ctx.fill();
        } else {
          const n = Math.max(1, Math.round((x1 - x0) / 4.3));
          const step = (x1 - x0) / n;
          ctx.lineWidth = 0.55;
          for (let i = 0; i < n; i++) {
            const cx = x0 + step * (i + 0.5);
            ctx.beginPath();
            ctx.ellipse(cx, y - 0.4, step * 0.36, 1.5, 0, 0, Math.PI * 2);
            ctx.stroke();
          }
          ctx.beginPath();
          ctx.moveTo(x0, y + 1.7);
          ctx.lineTo(x1, y + 1.7);
          ctx.stroke();
        }
        const long = String(label).length > 4;
        ctx.font = long ? '5.2px "Liberation Sans", Arial, sans-serif' : '4.6px "Liberation Sans", Arial, sans-serif';
        ctx.fillStyle = "#000";
        ctx.fillText(label, (x0 + x1) / 2, at(-20.6));
      });

      // region annotations
      regionAll[b].forEach((a: any) => {
        const [region, from, to, label] = a;
        const st = REGION_STYLE[region];
        const [lineY, textY] = LEVEL_PX[st.level];
        const x0 = X(from - 0.5), x1 = X(to + 0.5);
        if (!st.textOnly) {
          ctx.strokeStyle = st.color;
          ctx.lineWidth = st.dash ? 1 : 1.3;
          ctx.setLineDash(st.dash ? [1, 1.3] : []);
          ctx.beginPath();
          ctx.moveTo(x0, at(lineY));
          ctx.lineTo(Math.min(x1, W), at(lineY));
          ctx.stroke();
          ctx.setLineDash([]);
        }
        if (label) {
          ctx.font = '5.4px "Liberation Sans", Arial, sans-serif';
          ctx.fillStyle = st.textColor || st.color;
          ctx.textAlign = "center";
          let cx = (x0 + x1) / 2;
          const w = ctx.measureText(label).width;
          if (cx + w / 2 > W - 1) cx = W - 1 - w / 2;
          ctx.fillText(label, cx, at(textY));
        }
      });
    });
    ctx.restore();
  },
};

export default function App() {
  const canvasRef = useRef<HTMLCanvasElement | null>(null);
  useEffect(() => {
    document.body.style.margin = "0";
    const canvas = canvasRef.current;
    if (!canvas) return;
    const chart = new Chart(canvas, {
      type: "scatter",
      data: { datasets: [{ data: [], pointRadius: 0 }] },
      options: {
        animation: false,
        responsive: false,
        devicePixelRatio: 1,
        events: [],
        layout: { padding: { left: SEQ_LEFT, right: 0, top: 0, bottom: 0 } },
        plugins: { legend: { display: false }, tooltip: { enabled: false } },
        scales: {
          x: { type: "linear", min: 0.5, max: NCOL + 0.5, display: false, bounds: "data", grace: 0 },
          y: { type: "linear", reverse: true, min: -FIRST_ROW_Y / LINE, max: (H - FIRST_ROW_Y) / LINE, display: false, bounds: "data", grace: 0 },
        },
      },
      plugins: [alignmentPlugin],
    } as any);
    return () => chart.destroy();
  }, []);
  return (
    <div style={{ position: "absolute", left: 0, top: 0, width: W, height: H, background: "#fff" }}>
      <canvas ref={canvasRef} width={W} height={H} style={{ display: "block", width: W, height: H }} />
    </div>
  );
}
